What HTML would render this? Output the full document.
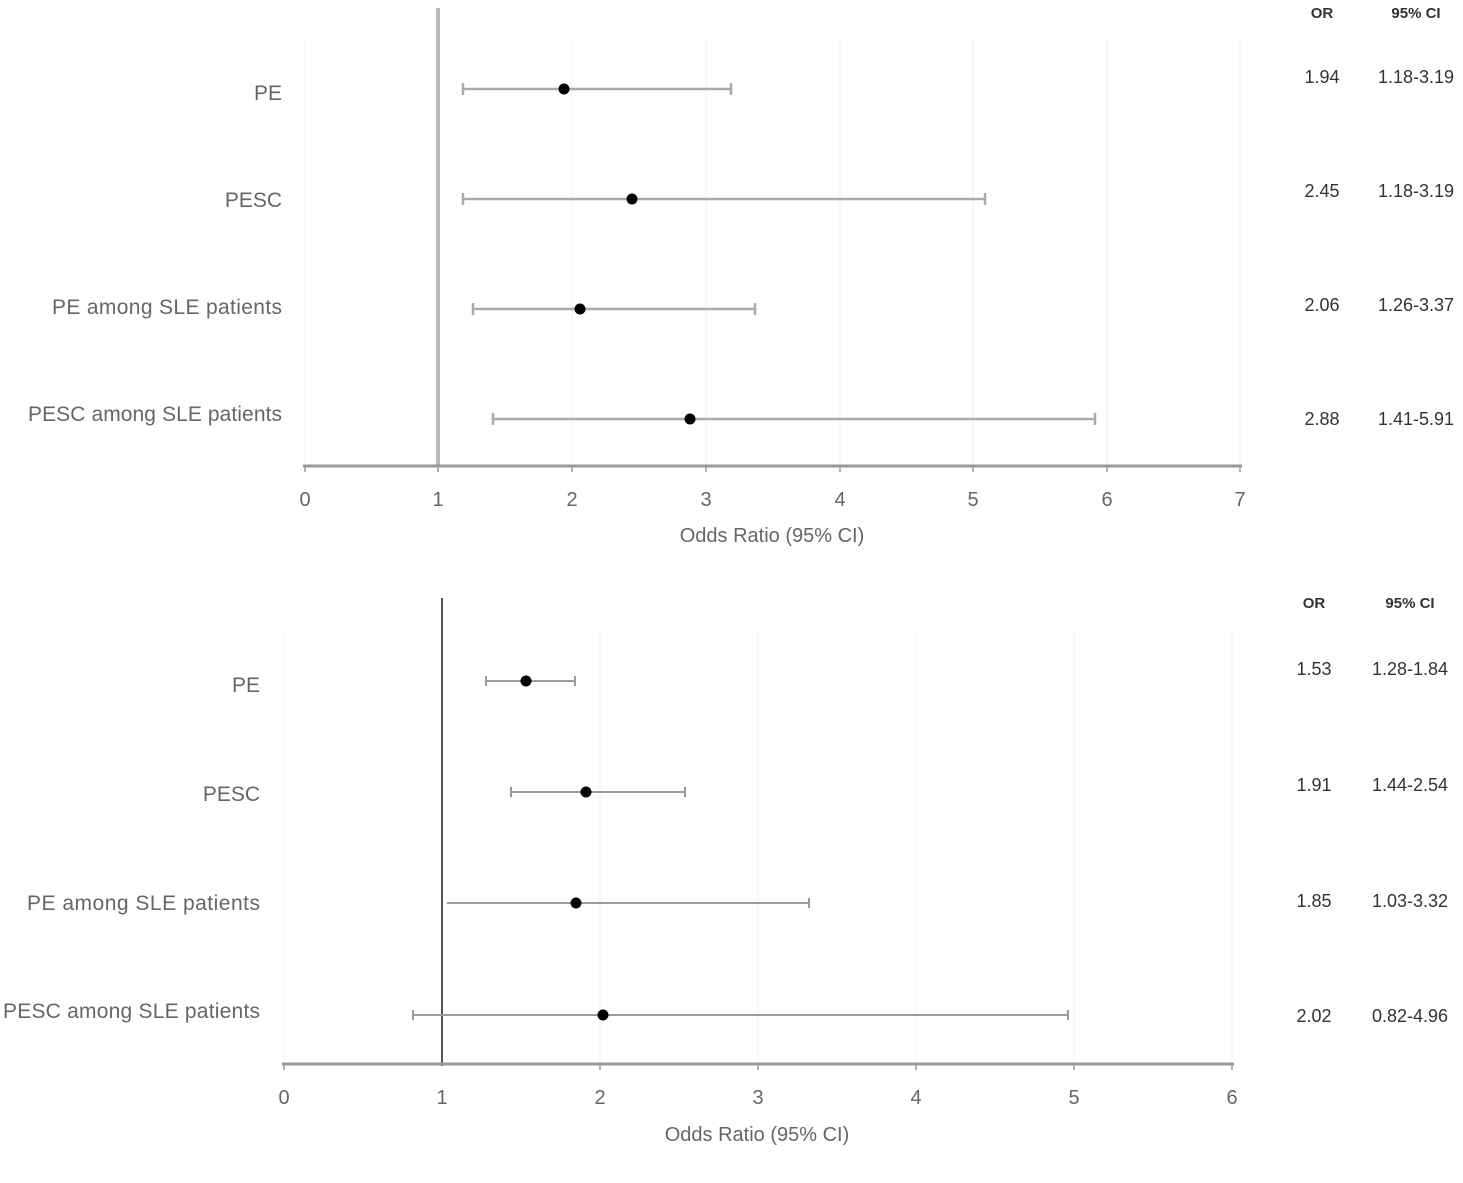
<!DOCTYPE html>
<html><head><style>body{margin:0;background:#fff}svg{display:block}text{font-family:"Liberation Sans",sans-serif}</style></head><body>
<svg width="1463" height="1183" xmlns="http://www.w3.org/2000/svg">
<g stroke="#f0f0f0" stroke-width="1">
<line x1="305" y1="40" x2="305" y2="466"/><line x1="572" y1="40" x2="572" y2="466"/><line x1="706" y1="40" x2="706" y2="466"/><line x1="840" y1="40" x2="840" y2="466"/><line x1="973" y1="40" x2="973" y2="466"/><line x1="1107" y1="40" x2="1107" y2="466"/><line x1="1240" y1="40" x2="1240" y2="466"/>
<line x1="284" y1="632" x2="284" y2="1064"/><line x1="600" y1="632" x2="600" y2="1064"/><line x1="758" y1="632" x2="758" y2="1064"/><line x1="916" y1="632" x2="916" y2="1064"/><line x1="1074" y1="632" x2="1074" y2="1064"/><line x1="1232" y1="632" x2="1232" y2="1064"/>
</g>
<line x1="438" y1="8" x2="438" y2="466" stroke="#bbb" stroke-width="4"/>
<line x1="303" y1="466" x2="1242" y2="466" stroke="#999" stroke-width="3"/>
<g stroke="#999" stroke-width="1.5">
<line x1="305" y1="466" x2="305" y2="472"/><line x1="438" y1="466" x2="438" y2="472"/><line x1="572" y1="466" x2="572" y2="472"/><line x1="706" y1="466" x2="706" y2="472"/><line x1="840" y1="466" x2="840" y2="472"/><line x1="973" y1="466" x2="973" y2="472"/><line x1="1107" y1="466" x2="1107" y2="472"/><line x1="1240" y1="466" x2="1240" y2="472"/>
</g>
<g stroke="#aaa" stroke-width="2.5">
<line x1="463" y1="89" x2="731" y2="89"/><line x1="463" y1="83" x2="463" y2="95"/><line x1="731" y1="83" x2="731" y2="95"/>
<line x1="463" y1="199" x2="985" y2="199"/><line x1="463" y1="193" x2="463" y2="205"/><line x1="985" y1="193" x2="985" y2="205"/>
<line x1="473" y1="309" x2="755" y2="309"/><line x1="473" y1="303" x2="473" y2="315"/><line x1="755" y1="303" x2="755" y2="315"/>
<line x1="493" y1="419" x2="1095" y2="419"/><line x1="493" y1="413" x2="493" y2="425"/><line x1="1095" y1="413" x2="1095" y2="425"/>
</g>
<g fill="#000"><circle cx="564" cy="89" r="5.5"/><circle cx="632" cy="199" r="5.5"/><circle cx="580" cy="309" r="5.5"/><circle cx="690" cy="419" r="5.5"/></g>
<g fill="#666" font-size="21" text-anchor="end">
<text x="282" y="100">PE</text><text x="282" y="207">PESC</text><text x="282" y="314" textLength="230">PE among SLE patients</text><text x="282" y="421" textLength="254">PESC among SLE patients</text>
</g>
<g fill="#666" font-size="20" text-anchor="middle">
<text x="305" y="506">0</text><text x="438" y="506">1</text><text x="572" y="506">2</text><text x="706" y="506">3</text><text x="840" y="506">4</text><text x="973" y="506">5</text><text x="1107" y="506">6</text><text x="1240" y="506">7</text>
<text x="772" y="542">Odds Ratio (95% CI)</text>
</g>
<g fill="#333" font-size="18" text-anchor="middle">
<text x="1322" y="18" font-weight="bold" font-size="15">OR</text><text x="1416" y="18" font-weight="bold" font-size="15">95% CI</text>
<text x="1322" y="83">1.94</text><text x="1416" y="83">1.18-3.19</text>
<text x="1322" y="197">2.45</text><text x="1416" y="197">1.18-3.19</text>
<text x="1322" y="311">2.06</text><text x="1416" y="311">1.26-3.37</text>
<text x="1322" y="425">2.88</text><text x="1416" y="425">1.41-5.91</text>
</g>
<line x1="442" y1="598" x2="442" y2="1066" stroke="#555" stroke-width="2"/>
<line x1="282" y1="1064" x2="1234" y2="1064" stroke="#999" stroke-width="3"/>
<g stroke="#999" stroke-width="1.5">
<line x1="284" y1="1064" x2="284" y2="1070"/><line x1="600" y1="1064" x2="600" y2="1070"/><line x1="758" y1="1064" x2="758" y2="1070"/><line x1="916" y1="1064" x2="916" y2="1070"/><line x1="1074" y1="1064" x2="1074" y2="1070"/><line x1="1232" y1="1064" x2="1232" y2="1070"/>
</g>
<g stroke="#999" stroke-width="2">
<line x1="486" y1="681" x2="575" y2="681"/><line x1="486" y1="676" x2="486" y2="686"/><line x1="575" y1="676" x2="575" y2="686"/>
<line x1="511" y1="792" x2="685" y2="792"/><line x1="511" y1="787" x2="511" y2="797"/><line x1="685" y1="787" x2="685" y2="797"/>
<line x1="447" y1="903" x2="809" y2="903"/><line x1="809" y1="898" x2="809" y2="908"/>
<line x1="413" y1="1015" x2="1068" y2="1015"/><line x1="413" y1="1010" x2="413" y2="1020"/><line x1="1068" y1="1010" x2="1068" y2="1020"/>
</g>
<g fill="#000"><circle cx="526" cy="681" r="5.5"/><circle cx="586" cy="792" r="5.5"/><circle cx="576" cy="903" r="5.5"/><circle cx="603" cy="1015" r="5.5"/></g>
<g fill="#666" font-size="21" text-anchor="end">
<text x="260" y="692">PE</text><text x="260" y="801">PESC</text><text x="260" y="910" textLength="233">PE among SLE patients</text><text x="260" y="1018" textLength="257">PESC among SLE patients</text>
</g>
<g fill="#666" font-size="20" text-anchor="middle">
<text x="284" y="1104">0</text><text x="442" y="1104">1</text><text x="600" y="1104">2</text><text x="758" y="1104">3</text><text x="916" y="1104">4</text><text x="1074" y="1104">5</text><text x="1232" y="1104">6</text>
<text x="757" y="1141">Odds Ratio (95% CI)</text>
</g>
<g fill="#333" font-size="18" text-anchor="middle">
<text x="1314" y="608" font-weight="bold" font-size="15">OR</text><text x="1410" y="608" font-weight="bold" font-size="15">95% CI</text>
<text x="1314" y="675">1.53</text><text x="1410" y="675">1.28-1.84</text>
<text x="1314" y="791">1.91</text><text x="1410" y="791">1.44-2.54</text>
<text x="1314" y="907">1.85</text><text x="1410" y="907">1.03-3.32</text>
<text x="1314" y="1022">2.02</text><text x="1410" y="1022">0.82-4.96</text>
</g>
</svg>
</body></html>
